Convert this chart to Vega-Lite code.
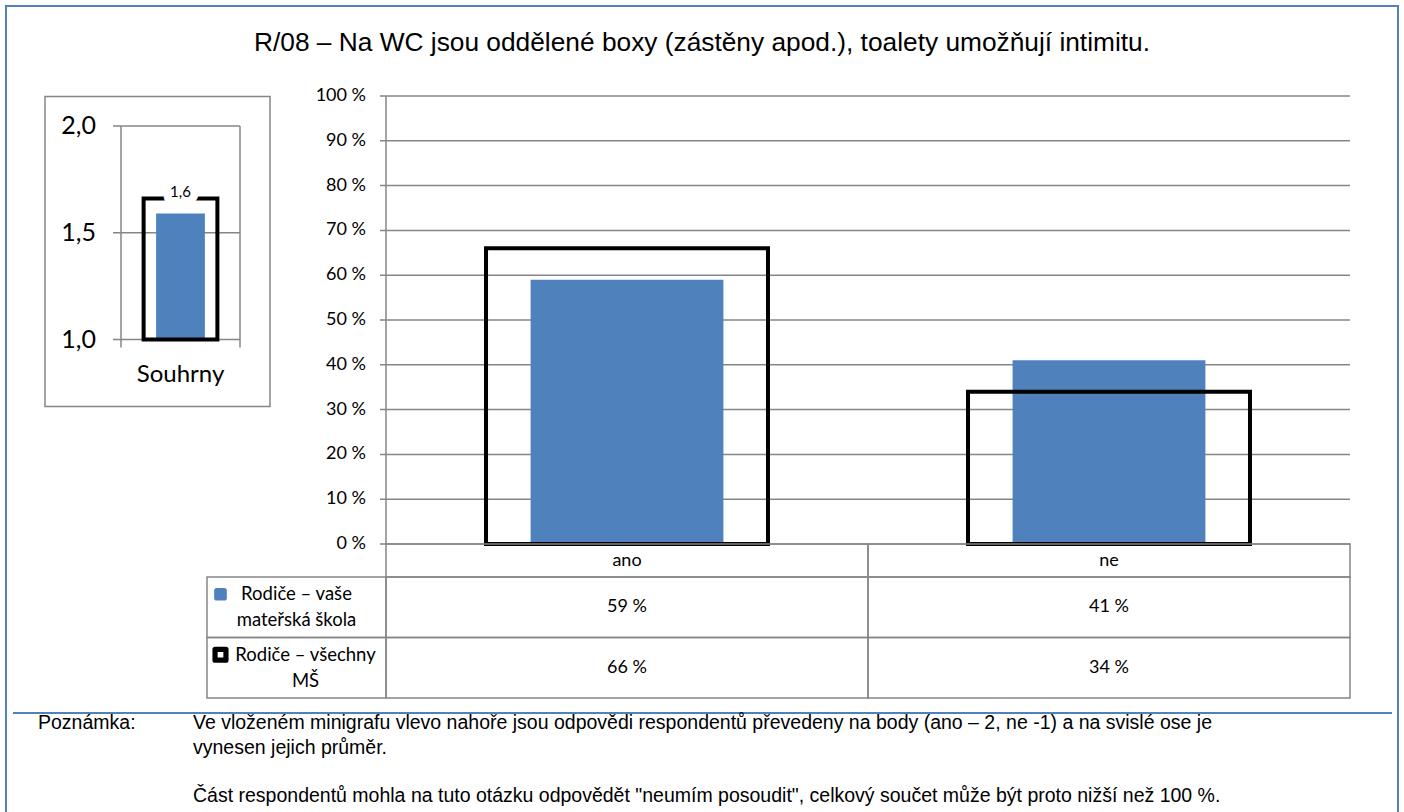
{
  "$schema": "https://vega.github.io/schema/vega-lite/v6.json",
  "width": 1404,
  "height": 812,
  "autosize": {"type": "fit", "contains": "padding"},
  "padding": {"left": 6, "top": 6, "right": 6, "bottom": -4},
  "background": "#ffffff",
  "config": {
    "view": {"stroke": "#4F81BD", "strokeWidth": 2},
    "locale": {"number": {"decimal": ",", "thousands": " ", "grouping": [3], "currency": ["", " Kč"], "percent": " %"}},
    "text": {"font": "Lato", "color": "#000000"}
  },
  "resolve": {"scale": {"x": "independent", "y": "independent"}},
  "datasets": {
    "answers": [
      {"cat": "ano", "key": "mine", "v": 0.59},
      {"cat": "ne", "key": "mine", "v": 0.41},
      {"cat": "ano", "key": "all", "v": 0.66},
      {"cat": "ne", "key": "all", "v": 0.34}
    ],
    "ticks": [{"t": 0}, {"t": 0.1}, {"t": 0.2}, {"t": 0.3}, {"t": 0.4}, {"t": 0.5}, {"t": 0.6}, {"t": 0.7}, {"t": 0.8}, {"t": 0.9}, {"t": 1}],
    "summary": [{"cat": "Souhrny", "mine": 1.59, "all": 1.66}],
    "miniTicks": [{"t": 1}, {"t": 1.5}, {"t": 2}],
    "series": [
      {"key": "mine", "lines": ["Rodiče – vaše", "mateřská škola"]},
      {"key": "all", "lines": ["Rodiče – všechny", "MŠ"]}
    ],
    "note": [
      {"part": "label", "para": "p1", "lines": ["Poznámka:"]},
      {"part": "body", "para": "p1", "lines": ["Ve vloženém minigrafu vlevo nahoře jsou odpovědi respondentů převedeny na body (ano – 2, ne -1) a na svislé ose je", "vynesen jejich průměr."]},
      {"part": "body", "para": "p2", "lines": ["Část respondentů mohla na tuto otázku odpovědět \"neumím posoudit\", celkový součet může být proto nižší než 100 %."]}
    ],
    "title": [{"text": "R/08 – Na WC jsou oddělené boxy (zástěny apod.), toalety umožňují intimitu."}],
    "frame": [{"part": "frame"}]
  },
  "layer": [
    {
      "data": {"name": "title"},
      "mark": {"type": "text", "align": "center", "baseline": "alphabetic", "dy": 45, "font": "Liberation Sans", "fontSize": 26.3},
      "encoding": {
        "x": {"datum": 0.5, "type": "quantitative", "scale": {"domain": [0, 1], "range": [0, 1392]}, "axis": null},
        "y": {"datum": 0, "type": "quantitative", "scale": {"domain": [0, 1], "range": [0, 806]}, "axis": null},
        "text": {"field": "text", "type": "nominal"}
      }
    },
    {
      "data": {"name": "ticks"},
      "mark": {"type": "rule", "color": "#868686", "strokeWidth": 1.5},
      "encoding": {
        "y": {"field": "t", "type": "quantitative", "scale": {"domain": [0, 1], "range": [538, 90], "nice": false, "zero": false}, "axis": null},
        "x": {"datum": 0, "type": "quantitative", "scale": {"domain": [0, 1], "range": [374, 1344]}, "axis": null},
        "x2": {"datum": 1}
      }
    },
    {
      "data": {"name": "ticks"},
      "mark": {"type": "text", "align": "right", "baseline": "middle", "dx": -14, "fontSize": 18},
      "encoding": {
        "y": {"field": "t", "type": "quantitative", "scale": {"domain": [0, 1], "range": [538, 90], "nice": false, "zero": false}, "axis": null},
        "x": {"datum": 0, "type": "quantitative", "scale": {"domain": [0, 1], "range": [374, 1344]}, "axis": null},
        "text": {"field": "t", "type": "quantitative", "format": ".0%"}
      }
    },
    {
      "data": {"name": "frame"},
      "mark": {"type": "rule", "color": "#868686", "strokeWidth": 1.5},
      "encoding": {
        "x": {"datum": 0, "type": "quantitative", "scale": {"domain": [0, 1], "range": [380, 1344]}, "axis": null},
        "y": {"datum": 0, "type": "quantitative", "scale": {"domain": [0, 1], "range": [538, 90]}, "axis": null},
        "y2": {"datum": 1}
      }
    },
    {
      "data": {"name": "answers"},
      "transform": [{"filter": "datum.key === 'mine'"}],
      "mark": {"type": "bar", "color": "#4F81BD", "width": {"band": 0.4}},
      "encoding": {
        "x": {"field": "cat", "type": "nominal", "scale": {"type": "band", "domain": ["ano", "ne"], "range": [380, 1344], "paddingInner": 0, "paddingOuter": 0}, "axis": null},
        "y": {"field": "v", "type": "quantitative", "scale": {"domain": [0, 1], "range": [538, 90]}, "axis": null}
      }
    },
    {
      "data": {"name": "answers"},
      "transform": [{"filter": "datum.key === 'all'"}],
      "mark": {"type": "bar", "fillOpacity": 0, "stroke": "#000000", "strokeWidth": 4, "width": {"band": 0.585}},
      "encoding": {
        "x": {"field": "cat", "type": "nominal", "scale": {"type": "band", "domain": ["ano", "ne"], "range": [380, 1344], "paddingInner": 0, "paddingOuter": 0}, "axis": null},
        "y": {"field": "v", "type": "quantitative", "scale": {"domain": [0, 1], "range": [538, 90]}, "axis": null}
      }
    },
    {
      "data": {"name": "answers"},
      "transform": [{"filter": "datum.key === 'mine'"}],
      "mark": {"type": "rect", "fillOpacity": 0, "stroke": "#868686", "strokeWidth": 1.5},
      "encoding": {
        "x": {"field": "cat", "type": "nominal", "scale": {"type": "band", "domain": ["ano", "ne"], "range": [380, 1344], "paddingInner": 0, "paddingOuter": 0}, "axis": null},
        "y": {"datum": "head", "type": "nominal", "scale": {"type": "band", "domain": ["head"], "range": [538, 571], "paddingInner": 0, "paddingOuter": 0}, "axis": null}
      }
    },
    {
      "data": {"name": "answers"},
      "transform": [{"filter": "datum.key === 'mine'"}],
      "mark": {"type": "text", "align": "center", "baseline": "middle", "fontSize": 18},
      "encoding": {
        "x": {"field": "cat", "type": "nominal", "scale": {"type": "band", "domain": ["ano", "ne"], "range": [380, 1344], "paddingInner": 0, "paddingOuter": 0}, "axis": null},
        "y": {"datum": "head", "type": "nominal", "scale": {"type": "band", "domain": ["head"], "range": [538, 571], "paddingInner": 0, "paddingOuter": 0}, "axis": null},
        "text": {"field": "cat", "type": "nominal"}
      }
    },
    {
      "data": {"name": "answers"},
      "mark": {"type": "rect", "fillOpacity": 0, "stroke": "#868686", "strokeWidth": 1.5},
      "encoding": {
        "x": {"field": "cat", "type": "nominal", "scale": {"type": "band", "domain": ["ano", "ne"], "range": [380, 1344], "paddingInner": 0, "paddingOuter": 0}, "axis": null},
        "y": {"field": "key", "type": "nominal", "scale": {"type": "band", "domain": ["mine", "all"], "range": [571, 692], "paddingInner": 0, "paddingOuter": 0}, "axis": null}
      }
    },
    {
      "data": {"name": "answers"},
      "mark": {"type": "text", "align": "center", "baseline": "middle", "fontSize": 18},
      "encoding": {
        "x": {"field": "cat", "type": "nominal", "scale": {"type": "band", "domain": ["ano", "ne"], "range": [380, 1344], "paddingInner": 0, "paddingOuter": 0}, "axis": null},
        "y": {"field": "key", "type": "nominal", "scale": {"type": "band", "domain": ["mine", "all"], "range": [571, 692], "paddingInner": 0, "paddingOuter": 0}, "axis": null},
        "text": {"field": "v", "type": "quantitative", "format": ".0%"}
      }
    },
    {
      "data": {"name": "series"},
      "mark": {"type": "rect", "fillOpacity": 0, "stroke": "#868686", "strokeWidth": 1.5},
      "encoding": {
        "x": {"datum": "legend", "type": "nominal", "scale": {"type": "band", "domain": ["legend"], "range": [201, 380], "paddingInner": 0, "paddingOuter": 0}, "axis": null},
        "y": {"field": "key", "type": "nominal", "scale": {"type": "band", "domain": ["mine", "all"], "range": [571, 692], "paddingInner": 0, "paddingOuter": 0}, "axis": null}
      }
    },
    {
      "data": {"name": "series"},
      "transform": [{"filter": "datum.key === 'mine'"}],
      "mark": {"type": "text", "align": "center", "baseline": "middle", "dy": -13, "fontSize": 18.5, "lineHeight": 26},
      "encoding": {
        "x": {"datum": "legend", "type": "nominal", "scale": {"type": "band", "domain": ["legend"], "range": [201, 380], "paddingInner": 0, "paddingOuter": 0}, "axis": null},
        "y": {"field": "key", "type": "nominal", "scale": {"type": "band", "domain": ["mine", "all"], "range": [571, 692], "paddingInner": 0, "paddingOuter": 0}, "axis": null},
        "text": {"field": "lines", "type": "nominal"}
      }
    },
    {
      "data": {"name": "series"},
      "transform": [{"filter": "datum.key === 'all'"}],
      "mark": {"type": "text", "align": "center", "baseline": "middle", "dx": 9, "dy": -13, "fontSize": 18.5, "lineHeight": 26},
      "encoding": {
        "x": {"datum": "legend", "type": "nominal", "scale": {"type": "band", "domain": ["legend"], "range": [201, 380], "paddingInner": 0, "paddingOuter": 0}, "axis": null},
        "y": {"field": "key", "type": "nominal", "scale": {"type": "band", "domain": ["mine", "all"], "range": [571, 692], "paddingInner": 0, "paddingOuter": 0}, "axis": null},
        "text": {"field": "lines", "type": "nominal"}
      }
    },
    {
      "data": {"name": "series"},
      "mark": {"type": "point", "shape": "square", "filled": true, "strokeWidth": 5.2, "strokeJoin": "round", "opacity": 1, "xOffset": -76, "yOffset": -13},
      "encoding": {
        "x": {"datum": "legend", "type": "nominal", "scale": {"type": "band", "domain": ["legend"], "range": [201, 380], "paddingInner": 0, "paddingOuter": 0}, "axis": null},
        "y": {"field": "key", "type": "nominal", "scale": {"type": "band", "domain": ["mine", "all"], "range": [571, 692], "paddingInner": 0, "paddingOuter": 0}, "axis": null},
        "fill": {"field": "key", "type": "nominal", "scale": {"domain": ["mine", "all"], "range": ["#4F81BD", "#ffffff"]}, "legend": null},
        "stroke": {"field": "key", "type": "nominal", "scale": {"domain": ["mine", "all"], "range": ["#4F81BD", "#000000"]}, "legend": null},
        "size": {"field": "key", "type": "nominal", "scale": {"domain": ["mine", "all"], "range": [56, 119]}, "legend": null}
      }
    },
    {
      "data": {"name": "frame"},
      "mark": {"type": "rect", "fillOpacity": 0, "stroke": "#868686", "strokeWidth": 1.5},
      "encoding": {
        "x": {"datum": 0, "type": "quantitative", "scale": {"domain": [0, 1], "range": [39, 264]}, "axis": null},
        "x2": {"datum": 1},
        "y": {"datum": 0, "type": "quantitative", "scale": {"domain": [0, 1], "range": [400.5, 90.5]}, "axis": null},
        "y2": {"datum": 1}
      }
    },
    {
      "data": {"name": "miniTicks"},
      "mark": {"type": "rule", "color": "#868686", "strokeWidth": 1.5},
      "encoding": {
        "y": {"field": "t", "type": "quantitative", "scale": {"domain": [1, 2], "range": [333.5, 120], "nice": false, "zero": false}, "axis": null},
        "x": {"datum": 0, "type": "quantitative", "scale": {"domain": [0, 1], "range": [107, 234]}, "axis": null},
        "x2": {"datum": 1}
      }
    },
    {
      "data": {"name": "miniTicks"},
      "mark": {"type": "text", "align": "right", "baseline": "middle", "dx": -17, "fontSize": 25},
      "encoding": {
        "y": {"field": "t", "type": "quantitative", "scale": {"domain": [1, 2], "range": [333.5, 120], "nice": false, "zero": false}, "axis": null},
        "x": {"datum": 0, "type": "quantitative", "scale": {"domain": [0, 1], "range": [107, 234]}, "axis": null},
        "text": {"field": "t", "type": "quantitative", "format": ".1f"}
      }
    },
    {
      "data": {"name": "summary"},
      "mark": {"type": "rule", "color": "#868686", "strokeWidth": 1.5, "y2Offset": 8},
      "encoding": {
        "x": {"field": "cat", "type": "nominal", "bandPosition": 0, "scale": {"type": "band", "domain": ["Souhrny"], "range": [115, 234], "paddingInner": 0, "paddingOuter": 0}, "axis": null},
        "y": {"datum": 2, "type": "quantitative", "scale": {"domain": [1, 2], "range": [333.5, 120], "nice": false, "zero": false}, "axis": null},
        "y2": {"datum": 1}
      }
    },
    {
      "data": {"name": "summary"},
      "mark": {"type": "rule", "color": "#868686", "strokeWidth": 1.5, "y2Offset": 8},
      "encoding": {
        "x": {"field": "cat", "type": "nominal", "bandPosition": 1, "scale": {"type": "band", "domain": ["Souhrny"], "range": [115, 234], "paddingInner": 0, "paddingOuter": 0}, "axis": null},
        "y": {"datum": 2, "type": "quantitative", "scale": {"domain": [1, 2], "range": [333.5, 120], "nice": false, "zero": false}, "axis": null},
        "y2": {"datum": 1}
      }
    },
    {
      "data": {"name": "summary"},
      "mark": {"type": "bar", "color": "#4F81BD", "width": {"band": 0.41}},
      "encoding": {
        "x": {"field": "cat", "type": "nominal", "scale": {"type": "band", "domain": ["Souhrny"], "range": [115, 234], "paddingInner": 0, "paddingOuter": 0}, "axis": null},
        "y": {"field": "mine", "type": "quantitative", "scale": {"domain": [1, 2], "range": [333.5, 120], "nice": false, "zero": false}, "axis": null},
        "y2": {"datum": 1}
      }
    },
    {
      "data": {"name": "summary"},
      "mark": {"type": "bar", "fillOpacity": 0, "stroke": "#000000", "strokeWidth": 4, "width": {"band": 0.62}},
      "encoding": {
        "x": {"field": "cat", "type": "nominal", "scale": {"type": "band", "domain": ["Souhrny"], "range": [115, 234], "paddingInner": 0, "paddingOuter": 0}, "axis": null},
        "y": {"field": "all", "type": "quantitative", "scale": {"domain": [1, 2], "range": [333.5, 120], "nice": false, "zero": false}, "axis": null},
        "y2": {"datum": 1}
      }
    },
    {
      "data": {"name": "summary"},
      "mark": {"type": "text", "align": "center", "baseline": "middle", "dy": -7, "fontSize": 15, "fill": "#ffffff", "stroke": "#ffffff", "strokeWidth": 16, "strokeJoin": "round"},
      "encoding": {
        "x": {"field": "cat", "type": "nominal", "scale": {"type": "band", "domain": ["Souhrny"], "range": [115, 234], "paddingInner": 0, "paddingOuter": 0}, "axis": null},
        "y": {"field": "all", "type": "quantitative", "scale": {"domain": [1, 2], "range": [333.5, 120], "nice": false, "zero": false}, "axis": null},
        "text": {"field": "mine", "type": "quantitative", "format": ".1f"}
      }
    },
    {
      "data": {"name": "summary"},
      "mark": {"type": "text", "align": "center", "baseline": "middle", "dy": -7, "fontSize": 15},
      "encoding": {
        "x": {"field": "cat", "type": "nominal", "scale": {"type": "band", "domain": ["Souhrny"], "range": [115, 234], "paddingInner": 0, "paddingOuter": 0}, "axis": null},
        "y": {"field": "all", "type": "quantitative", "scale": {"domain": [1, 2], "range": [333.5, 120], "nice": false, "zero": false}, "axis": null},
        "text": {"field": "mine", "type": "quantitative", "format": ".1f"}
      }
    },
    {
      "data": {"name": "summary"},
      "mark": {"type": "text", "align": "center", "baseline": "middle", "dy": 35, "fontSize": 24},
      "encoding": {
        "x": {"field": "cat", "type": "nominal", "scale": {"type": "band", "domain": ["Souhrny"], "range": [115, 234], "paddingInner": 0, "paddingOuter": 0}, "axis": null},
        "y": {"datum": 1, "type": "quantitative", "scale": {"domain": [1, 2], "range": [333.5, 120], "nice": false, "zero": false}, "axis": null},
        "text": {"field": "cat", "type": "nominal"}
      }
    },
    {
      "data": {"name": "frame"},
      "mark": {"type": "rule", "color": "#4F81BD", "strokeWidth": 2},
      "encoding": {
        "x": {"datum": 0, "type": "quantitative", "scale": {"domain": [0, 1], "range": [7, 1386]}, "axis": null},
        "x2": {"datum": 1},
        "y": {"datum": 0, "type": "quantitative", "scale": {"domain": [0, 1], "range": [707, 806]}, "axis": null}
      }
    },
    {
      "data": {"name": "note"},
      "mark": {"type": "text", "align": "left", "baseline": "alphabetic", "font": "Liberation Sans", "fontSize": 19.5, "lineHeight": 24.5},
      "encoding": {
        "x": {"field": "part", "type": "nominal", "scale": {"type": "point", "domain": ["label", "body"], "range": [32, 187], "padding": 0}, "axis": null},
        "y": {"field": "para", "type": "nominal", "scale": {"type": "point", "domain": ["p1", "p2"], "range": [723, 796], "padding": 0}, "axis": null},
        "text": {"field": "lines", "type": "nominal"}
      }
    }
  ]
}
